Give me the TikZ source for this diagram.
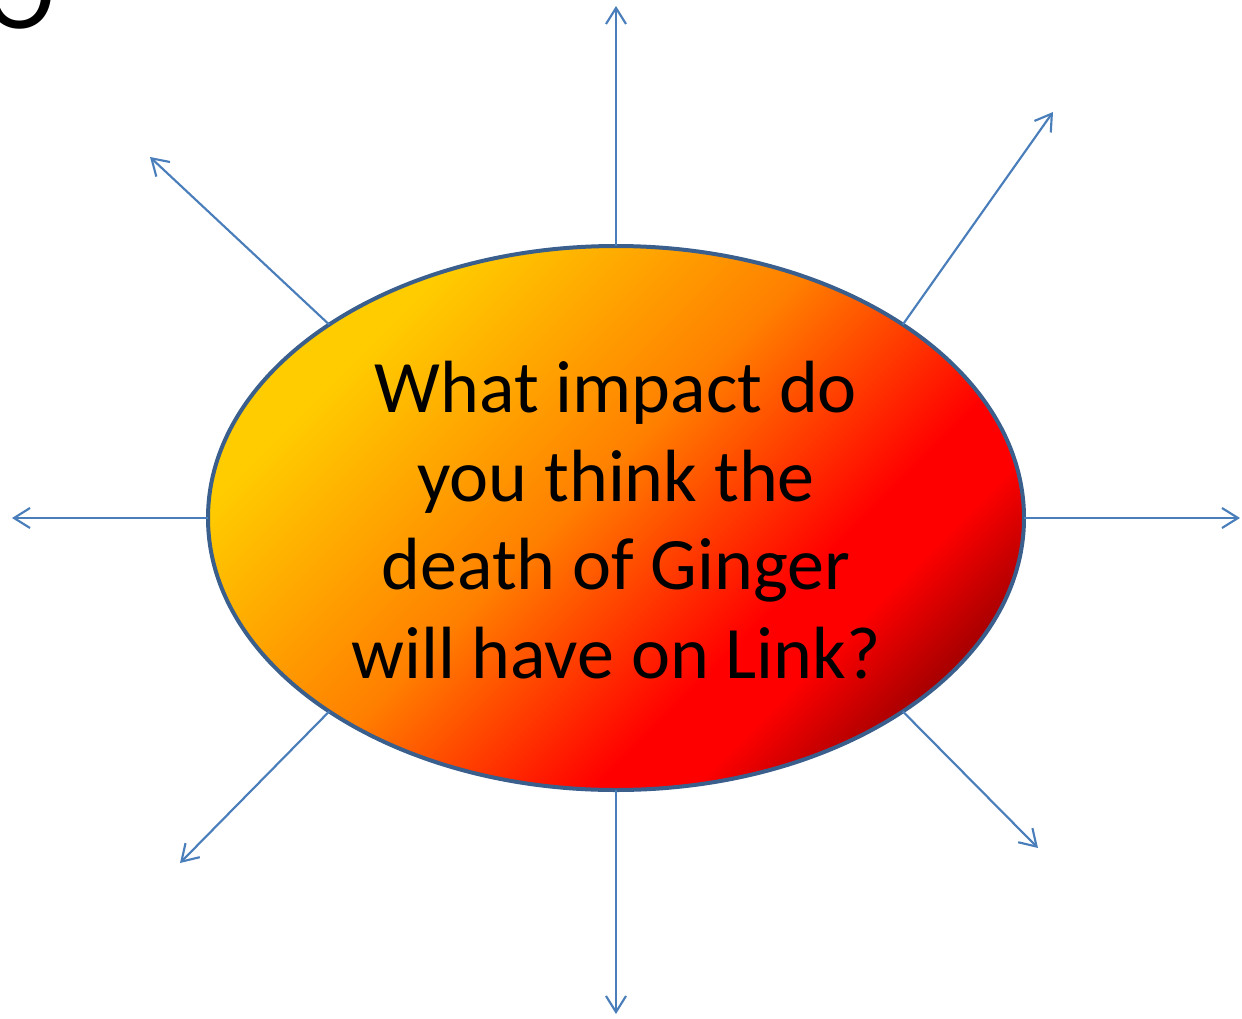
\documentclass[tikz,border=0pt]{standalone}
\usepackage{fontspec}
\setmainfont{Carlito}
\usetikzlibrary{arrows.meta,shapes.geometric}
\definecolor{yel}{HTML}{FFCC00}
\definecolor{orng}{HTML}{FF8000}
\definecolor{rd}{HTML}{FF0000}
\definecolor{drd}{HTML}{A00000}
\definecolor{linec}{HTML}{4A7EBB}
\definecolor{borderc}{HTML}{3B5F8D}
\pgfdeclarehorizontalshading{hotshade}{100bp}{color(0bp)=(yel); color(28bp)=(yel); color(47bp)=(orng); color(63bp)=(rd); color(68bp)=(rd); color(76bp)=(drd); color(100bp)=(drd)}
\tikzset{
  ray/.style={draw=linec, line width=1.6pt, -{Straight Barb[length=12pt,width=15pt,line width=1.6pt]}},
  hub/.style={ellipse, draw=borderc, line width=3pt, shading=hotshade, shading angle=-45,
    minimum width=612pt, minimum height=408pt, inner sep=0pt, outer sep=0pt},
}
\begin{document}
\begin{tikzpicture}[x=0.75pt,y=-0.75pt]
\useasboundingbox (0,0) rectangle (1242,1018);
\node[anchor=base, font=\fontsize{80pt}{80pt}\selectfont] (o) at (20,28) {O};
\node[hub] (e) at (616,518) {};
\node[align=center, font=\fontsize{55.5pt}{66.5pt}\selectfont] (t) at (616,520)
  {What impact do\\you think the\\death of Ginger\\will have on Link?};
\coordinate (n) at (616,6);
\coordinate (ne) at (1053,112);
\coordinate (ea) at (1240,518);
\coordinate (se) at (1038,848);
\coordinate (s) at (616,1014);
\coordinate (sw) at (180,863);
\coordinate (w) at (12,518);
\coordinate (nw) at (150,157);
\draw[ray] (e.north) -- (n);
\draw[ray] (e.34) -- (ne);
\draw[ray] (e.east) -- (ea);
\draw[ray] (e.-34) -- (se);
\draw[ray] (e.south) -- (s);
\draw[ray] (e.214) -- (sw);
\draw[ray] (e.west) -- (w);
\draw[ray] (e.146) -- (nw);
\end{tikzpicture}
\end{document}
